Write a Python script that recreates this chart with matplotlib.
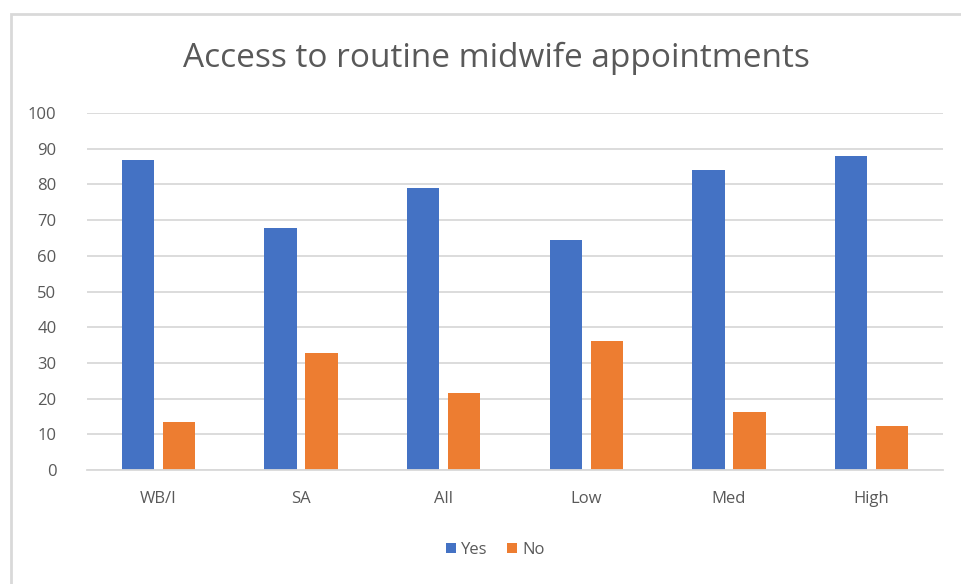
import numpy as np
import matplotlib
matplotlib.use("Agg")
import matplotlib.pyplot as plt
from matplotlib.patches import Rectangle

plt.rcParams['font.family'] = ['Open Sans', 'DejaVu Sans']

categories = ["WB/I", "SA", "All", "Low", "Med", "High"]
yes_vals = [86.7, 67.7, 78.9, 64.3, 83.9, 88.0]
no_vals = [13.5, 32.9, 21.5, 36.1, 16.3, 12.4]
yticks = list(range(0, 101, 10))

blue = '#4472C4'
orange = '#ED7D31'
grid_col = '#D9D9D9'
text_col = '#595959'

fig = plt.figure(figsize=(9.61, 5.84), dpi=100)
ax = fig.add_axes([87 / 961, 1 - 470 / 584, (943 - 87) / 961, (470 - 113) / 584])

x = np.arange(len(categories))
w = 0.225
gap = 0.063
ax.bar(x - (w + gap) / 2, yes_vals, w, color=blue, label='Yes', zorder=3)
ax.bar(x + (w + gap) / 2, no_vals, w, color=orange, label='No', zorder=3)

ax.set_xlim(-0.5, len(categories) - 0.5)
ax.set_ylim(0, 100)
ax.set_yticks(yticks)
ax.set_xticks(x)
ax.set_xticklabels(categories)
ax.tick_params(axis='both', length=0, colors=text_col, labelsize=12)
ax.tick_params(axis='y', pad=22)
ax.tick_params(axis='x', pad=15)
ax.yaxis.grid(True, color=grid_col, linewidth=1.3, zorder=0)
for s in ['top', 'right', 'left']:
    ax.spines[s].set_visible(False)
ax.spines['bottom'].set_color(grid_col)
ax.spines['bottom'].set_linewidth(1.3)
ax.spines['bottom'].set_zorder(4)

fig.text(496 / 961, 1 - 58 / 584, "Access to routine midwife appointments",
         ha='center', va='center', fontsize=24, color=text_col)

leg = fig.legend(loc='center', bbox_to_anchor=(495 / 961, 1 - 550 / 584), ncol=2,
                 frameon=False, fontsize=12, handlelength=0.6, handleheight=0.6,
                 handletextpad=0.3, columnspacing=1.2)
for t in leg.get_texts():
    t.set_color(text_col)

fig.patches.append(Rectangle((11 / 961, -0.05), 1.0, 1 - 14 / 584 + 0.05,
                             transform=fig.transFigure, fill=False,
                             edgecolor=grid_col, linewidth=2))

fig.savefig('out.png', dpi=100)
